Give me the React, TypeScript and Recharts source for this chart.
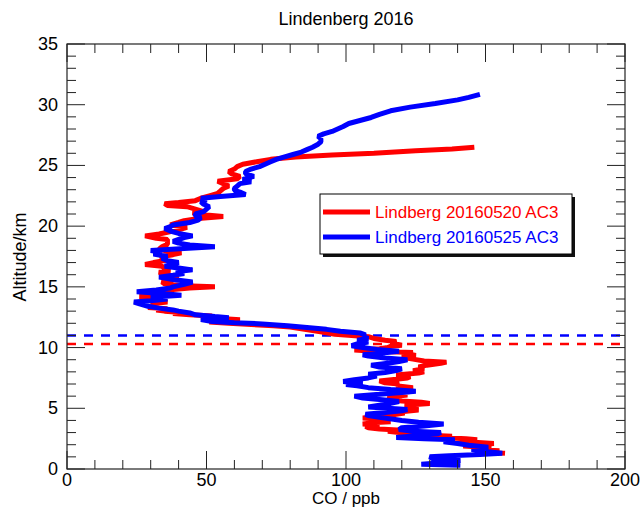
import { ScatterChart, Scatter, XAxis, YAxis, ReferenceLine } from "recharts";

const FONT = '"Liberation Sans", Arial, Helvetica, sans-serif';

const W = 641;
const H = 509;
const PLOT_LEFT = 67;
const PLOT_RIGHT = 625;
const PLOT_TOP = 44;
const PLOT_BOTTOM = 469;

const xTicks = [0, 10, 20, 30, 40, 50, 60, 70, 80, 90, 100, 110, 120, 130, 140, 150, 160, 170, 180, 190, 200];
const yTicks = [0, 1, 2, 3, 4, 5, 6, 7, 8, 9, 10, 11, 12, 13, 14, 15, 16, 17, 18, 19, 20, 21, 22, 23, 24, 25, 26, 27, 28, 29, 30, 31, 32, 33, 34, 35];

// Lindberg 20160520 AC3
const redAlt = [
  1.3, 1.4, 1.5, 1.6, 1.7, 1.8, 1.9, 2.0, 2.1, 2.2, 2.3, 2.4, 2.5, 2.6, 2.7, 2.8, 2.9, 3.0, 3.1, 3.2,
  3.3, 3.4, 3.5, 3.6, 3.7, 3.8, 3.9, 4.0, 4.1, 4.2, 4.35, 4.5, 4.6, 4.7, 4.85, 5.0, 5.1, 5.25, 5.4, 5.5,
  5.6, 5.75, 5.9, 6.0, 6.1, 6.25, 6.4, 6.55, 6.7, 6.85, 7.0, 7.1, 7.25, 7.4, 7.5, 7.6, 7.75, 7.9, 8.0, 8.1,
  8.25, 8.4, 8.55, 8.7, 8.8, 8.9, 9.05, 9.2, 9.35, 9.5, 9.6, 9.7, 9.8, 9.9, 10.0, 10.1, 10.2, 10.35, 10.5, 10.6,
  10.75, 10.9, 11.0, 11.1, 11.25, 11.4, 11.55, 11.7, 11.8, 11.9, 12.0, 12.1, 12.2, 12.3, 12.4, 12.5, 12.6, 12.7, 12.8, 12.9,
  13.0, 13.1, 13.2, 13.3, 13.45, 13.6, 13.75, 13.9, 14.0, 14.1, 14.2, 14.35, 14.5, 14.6, 14.75, 14.9, 15.0, 15.1, 15.25, 15.4,
  15.55, 15.7, 15.85, 16.0, 16.2, 16.35, 16.5, 16.7, 16.85, 17.0, 17.2, 17.35, 17.5, 17.65, 17.8, 17.95, 18.1, 18.3, 18.5, 18.7,
  18.9, 19.0, 19.2, 19.35, 19.5, 19.7, 19.9, 20.1, 20.3, 20.45, 20.6, 20.8, 20.95, 21.1, 21.2, 21.4, 21.6, 21.7, 21.85, 21.95,
  22.1, 22.3, 22.5, 22.7, 22.9, 23.1, 23.3, 23.5, 23.7, 23.9, 24.1, 24.3, 24.5, 24.7, 24.9, 25.1, 25.3, 25.5, 25.7, 25.85,
  26.0, 26.2, 26.35, 26.5,
];
const redCO = [
  157, 150, 155, 146, 152, 150, 142, 148, 153, 146, 140, 147, 143, 134, 138, 128, 124, 119, 115, 120,
  112, 108, 107, 112, 106, 109, 116, 108, 112, 106, 114, 118, 121, 119, 126, 122, 126, 121, 130, 127,
  120, 116, 115, 118, 122, 117, 124, 120, 124, 118, 119, 114, 112, 118, 122, 123, 118, 126, 128, 124,
  128, 126, 129, 134, 136, 128, 124, 120, 125, 122, 124, 110, 103, 112, 115, 116, 120, 117, 118, 114,
  110, 108, 102, 96, 92, 88, 84, 80, 74, 66, 58, 51, 56, 62, 55, 48, 52, 44, 38, 40,
  35, 32, 36, 29, 33, 30, 36, 32, 34, 29, 26, 31, 35, 33, 36, 44, 53, 42, 35, 34,
  38, 36, 40, 35, 33, 37, 35, 34, 28, 31, 36, 34, 34, 38, 41, 36, 33, 34, 36, 36,
  36, 32, 28, 33, 36, 40, 43, 37, 40, 42, 46, 56, 48, 45, 49, 46, 43, 36, 35, 40,
  46, 48, 51, 54, 55, 56, 58, 56, 54, 61, 62, 59, 58, 60, 61, 63, 68, 73, 82, 95,
  110, 125, 138, 146,
];

// Lindberg 20160525 AC3
const blueAlt = [
  0.3, 0.4, 0.5, 0.6, 0.7, 0.85, 1.0, 1.1, 1.2, 1.3, 1.45, 1.6, 1.8, 1.95, 2.1, 2.25, 2.4, 2.5, 2.6, 2.75,
  2.9, 3.0, 3.1, 3.25, 3.4, 3.55, 3.7, 3.85, 4.0, 4.1, 4.25, 4.4, 4.5, 4.65, 4.8, 4.9, 5.0, 5.1, 5.25, 5.4,
  5.55, 5.7, 5.85, 6.0, 6.15, 6.3, 6.4, 6.55, 6.7, 6.85, 6.95, 7.05, 7.2, 7.35, 7.5, 7.65, 7.8, 7.95, 8.1, 8.25,
  8.4, 8.55, 8.7, 8.85, 9.0, 9.15, 9.3, 9.4, 9.55, 9.7, 9.85, 10.0, 10.15, 10.3, 10.45, 10.6, 10.75, 10.9, 11.05, 11.2,
  11.35, 11.5, 11.65, 11.8, 11.95, 12.05, 12.15, 12.3, 12.45, 12.55, 12.7, 12.85, 13.0, 13.1, 13.25, 13.4, 13.6, 13.75, 13.85, 14.0,
  14.15, 14.3, 14.45, 14.6, 14.75, 14.9, 15.0, 15.2, 15.4, 15.6, 15.8, 15.95, 16.1, 16.25, 16.4, 16.55, 16.7, 16.85, 17.0, 17.15,
  17.35, 17.5, 17.7, 17.85, 18.0, 18.15, 18.3, 18.45, 18.6, 18.75, 18.9, 19.05, 19.2, 19.4, 19.6, 19.8, 19.95, 20.1, 20.3, 20.5,
  20.7, 20.85, 21.0, 21.2, 21.4, 21.6, 21.8, 22.0, 22.15, 22.3, 22.45, 22.6, 22.8, 22.95, 23.1, 23.3, 23.5, 23.65, 23.85, 24.1,
  24.3, 24.5, 24.7, 24.9, 25.1, 25.3, 25.5, 25.7, 25.9, 26.1, 26.3, 26.5, 26.75, 26.95, 27.2, 27.4, 27.6, 27.8, 28.0, 28.2,
  28.45, 28.7, 28.95, 29.2, 29.5, 29.8, 30.1, 30.4, 30.6, 30.85,
];
const blueCO = [
  141, 127, 133, 138, 141, 131, 130, 137, 148, 156, 150, 145, 151, 144, 140, 135, 139, 128, 118, 126,
  133, 134, 124, 119, 120, 128, 135, 126, 120, 117, 112, 108, 107, 114, 120, 122, 115, 108, 112, 116,
  119, 113, 106, 103, 112, 120, 125, 116, 108, 104, 100, 106, 99, 103, 108, 111, 108, 114, 118, 120,
  112, 109, 115, 119, 122, 114, 108, 106, 113, 119, 111, 106, 102, 104, 108, 104, 108, 106, 107, 105,
  98, 93, 86, 79, 70, 60, 52, 48, 58, 53, 46, 44, 40, 38, 33, 29, 26, 24, 30, 36,
  30, 41, 34, 25, 32, 37, 38, 42, 45, 38, 33, 38, 42, 39, 45, 40, 35, 38, 40, 36,
  34, 36, 31, 34, 30, 42, 53, 44, 40, 38, 40, 42, 45, 40, 37, 35, 37, 38, 44, 47,
  48, 46, 46, 49, 50, 51, 49, 48, 50, 48, 55, 64, 62, 60, 60, 61, 62, 66, 63, 67,
  64, 64, 66, 69, 71, 73, 75, 78, 81, 84, 86, 88, 90, 91, 91, 90, 92, 95, 97, 99,
  101, 105, 109, 112, 116, 123, 132, 140, 144, 148,
];

const redData = redAlt.map((alt, i) => ({ co: redCO[i], alt }));
const blueData = blueAlt.map((alt, i) => ({ co: blueCO[i], alt }));

const AXIS = "#222";

const XTick = ({ x, payload }: any) => {
  const major = payload.value % 50 === 0;
  const len = major ? 18 : 9;
  return (
    <g>
      <line x1={x} x2={x} y1={PLOT_BOTTOM} y2={PLOT_BOTTOM - len} stroke={AXIS} />
      <line x1={x} x2={x} y1={PLOT_TOP} y2={PLOT_TOP + len} stroke={AXIS} />
      {major && (
        <text x={x} y={PLOT_BOTTOM + 17} textAnchor="middle" fontSize={18} fontFamily={FONT} fill="#000">
          {payload.value}
        </text>
      )}
    </g>
  );
};

const YTick = ({ y, payload }: any) => {
  const major = payload.value % 5 === 0;
  const len = major ? 18 : 9;
  return (
    <g>
      <line x1={PLOT_LEFT} x2={PLOT_LEFT + len} y1={y} y2={y} stroke={AXIS} />
      <line x1={PLOT_RIGHT} x2={PLOT_RIGHT - len} y1={y} y2={y} stroke={AXIS} />
      {major && (
        <text x={PLOT_LEFT - 9} y={y + 6} textAnchor="end" fontSize={18} fontFamily={FONT} fill="#000">
          {payload.value}
        </text>
      )}
    </g>
  );
};

const noDot = () => <g />;

function Legend() {
  const left = 320;
  const top = 194;
  const w = 252;
  const h = 60;
  return (
    <svg width={W} height={H} style={{ position: "absolute", left: 0, top: 0, pointerEvents: "none" }}>
      <rect x={left + 3} y={top + 3} width={w} height={h} fill="#111" />
      <rect x={left} y={top} width={w} height={h} fill="#fff" stroke="#000" strokeWidth={1} />
      <line x1={323} x2={370} y1={212} y2={212} stroke="#ff0000" strokeWidth={5} />
      <text x={375} y={218} fontSize={17} fontFamily={FONT} fill="#ff0000">Lindberg 20160520 AC3</text>
      <line x1={323} x2={370} y1={237} y2={237} stroke="#0000ff" strokeWidth={5} />
      <text x={375} y={243} fontSize={17} fontFamily={FONT} fill="#0000ff">Lindberg 20160525 AC3</text>
    </svg>
  );
}

export default function App() {
  return (
    <div style={{ position: "absolute", left: 0, top: 0, width: W, height: H, background: "#fff" }}>
      <ScatterChart
        width={W}
        height={H}
        margin={{ top: PLOT_TOP, right: W - PLOT_RIGHT, bottom: H - PLOT_BOTTOM - 30, left: PLOT_LEFT - 50 }}
      >
        <XAxis
          type="number"
          dataKey="co"
          domain={[0, 200]}
          ticks={xTicks}
          interval={0}
          height={30}
          tickLine={false}
          tick={<XTick />}
          axisLine={false}
          allowDataOverflow
        />
        <YAxis
          type="number"
          dataKey="alt"
          domain={[0, 35]}
          ticks={yTicks}
          interval={0}
          width={50}
          tickLine={false}
          tick={<YTick />}
          axisLine={false}
          allowDataOverflow
        />
        <ReferenceLine y={10.3} stroke="#ff0000" strokeWidth={2.5} strokeDasharray="9 8" />
        <ReferenceLine y={11.0} stroke="#0000ff" strokeWidth={2.5} strokeDasharray="9 8" />
        <Scatter
          data={redData}
          fill="#ff0000"
          line={{ stroke: "#ff0000", strokeWidth: 5, strokeLinejoin: "bevel" }}
          shape={noDot}
          isAnimationActive={false}
        />
        <Scatter
          data={blueData}
          fill="#0000ff"
          line={{ stroke: "#0000ff", strokeWidth: 5, strokeLinejoin: "bevel" }}
          shape={noDot}
          isAnimationActive={false}
        />
      </ScatterChart>
      <svg width={W} height={H} style={{ position: "absolute", left: 0, top: 0, pointerEvents: "none" }}>
        <rect
          x={PLOT_LEFT}
          y={PLOT_TOP}
          width={PLOT_RIGHT - PLOT_LEFT}
          height={PLOT_BOTTOM - PLOT_TOP}
          fill="none"
          stroke={AXIS}
          strokeWidth={1.2}
        />
        <text x={346} y={25} textAnchor="middle" fontSize={18} fontFamily={FONT} fill="#000">Lindenberg 2016</text>
        <text x={346} y={504} textAnchor="middle" fontSize={17} fontFamily={FONT} fill="#000">CO / ppb</text>
        <text
          x={26}
          y={257}
          textAnchor="middle"
          fontSize={18}
          fontFamily={FONT}
          fill="#000"
          transform="rotate(-90 26 257)"
        >
          Altitude/km
        </text>
      </svg>
      <Legend />
    </div>
  );
}
